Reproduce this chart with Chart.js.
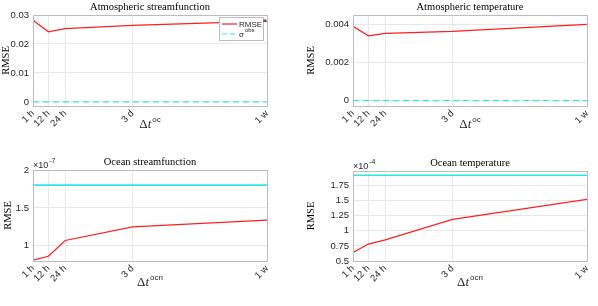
<!DOCTYPE html>
<html>
<head>
<meta charset="utf-8">
<script src="https://cdn.jsdelivr.net/npm/chart.js@4"></script>
<style>
  body { margin: 0; background: #fff; }
  #wrap { position: relative; width: 598px; height: 306px; }
  canvas { position: absolute; }
</style>
</head>
<body>
<div id="wrap">
  <canvas id="c1" width="299" height="153" style="left:0;top:0"></canvas>
  <canvas id="c2" width="299" height="153" style="left:299px;top:0"></canvas>
  <canvas id="c3" width="299" height="153" style="left:0;top:153px"></canvas>
  <canvas id="c4" width="299" height="153" style="left:299px;top:153px"></canvas>
</div>
<script>
// coupling step in hours
const steps = [1, 12, 24, 72, 168];
const xTickVals = [1, 12, 24, 72, 168];
const xTickLabels = ["1 h", "12 h", "24 h", "3 d", "1 w"];

const atmStreamRmse = [0.0282, 0.0242, 0.0253, 0.0264, 0.0279];
const atmStreamObs = 0.00005;
const atmStreamTicks = [0, 0.01, 0.02, 0.03];

const atmTempRmse = [0.0039, 0.0034, 0.00353, 0.00363, 0.0040];
const atmTempObs = 0.000005;
const atmTempTicks = [0, 0.002, 0.004];

// x 1e-7
const ocnStreamRmse = [0.81, 0.863, 1.07, 1.25, 1.34];
const ocnStreamObs = 1.80;
const ocnStreamTicks = [1, 1.5, 2];

// x 1e-4
const ocnTempRmse = [0.64, 0.78, 0.85, 1.19, 1.52];
const ocnTempObs = 1.92;
const ocnTempTicks = [0.5, 0.75, 1, 1.25, 1.5, 1.75];

const RED = "#ff1f1f";
const CYAN = "#2ee6e6";
const GRID = "#e8e8e8";
const BOX = "#bcbcbc";
const TICK = "#262626";
const SERIF = "'Liberation Serif', 'DejaVu Serif', serif";
const SANS = "'Liberation Sans', Arial, sans-serif";

// text with a superscript, x is the centre or left depending on align
function supText(ctx, base, baseFont, sup, supFont, x, y, align) {
  ctx.font = baseFont;
  const bw = ctx.measureText(base).width;
  ctx.font = supFont;
  const sw = ctx.measureText(sup).width;
  let x0 = align === "center" ? x - (bw + sw + 1) / 2 : x;
  ctx.textAlign = "left";
  ctx.textBaseline = "middle";
  ctx.font = baseFont;
  ctx.fillText(base, x0, y);
  ctx.font = supFont;
  ctx.fillText(sup, x0 + bw + 1, y - 5);
}

function decor(o) {
  return {
    id: "decor",
    afterDraw(chart) {
      const ctx = chart.ctx;
      const a = chart.chartArea;
      ctx.save();
      // box
      ctx.strokeStyle = BOX;
      ctx.lineWidth = 1;
      ctx.strokeRect(Math.round(a.left) + 0.5, Math.round(a.top) + 0.5,
        Math.round(a.right - a.left), Math.round(a.bottom - a.top));
      // title
      ctx.fillStyle = "#000";
      ctx.font = "10.5px " + SERIF;
      ctx.textAlign = "center";
      ctx.textBaseline = "middle";
      ctx.fillText(o.title, (a.left + a.right) / 2, a.top - 8);
      // y label
      ctx.save();
      ctx.translate(o.rmseX, (a.top + a.bottom) / 2);
      ctx.rotate(-Math.PI / 2);
      ctx.font = "10.5px " + SERIF;
      ctx.fillText("RMSE", 0, 0);
      ctx.restore();
      // x label
      const cx = (a.left + a.right) / 2;
      const cy = a.bottom + o.xDy;
      ctx.fillStyle = TICK;
      ctx.font = "13px " + SERIF;
      const dw = ctx.measureText("Δ").width;
      ctx.font = "italic 13px " + SERIF;
      const tw = ctx.measureText("t").width;
      ctx.font = "8px " + SANS;
      const sw = ctx.measureText(o.xSup).width;
      let x0 = cx - (dw + tw + sw + 1) / 2;
      ctx.textAlign = "left";
      ctx.font = "13px " + SERIF;
      ctx.fillText("Δ", x0, cy);
      ctx.font = "italic 13px " + SERIF;
      ctx.fillText("t", x0 + dw, cy);
      ctx.font = "8px " + SANS;
      ctx.fillText(o.xSup, x0 + dw + tw + 1, cy - 5);
      // exponent
      if (o.exp) {
        supText(ctx, "×10", "9px " + SANS, o.exp, "7px " + SANS, a.left, a.top - 4, "left");
      }
      // legend
      if (o.legend) {
        const lx = a.right - 48, ly = a.top + 2, lw = 44, lh = 23;
        ctx.fillStyle = "#fff";
        ctx.fillRect(lx, ly, lw, lh);
        ctx.strokeStyle = BOX;
        ctx.strokeRect(lx + 0.5, ly + 0.5, lw, lh);
        ctx.lineWidth = 1.2;
        ctx.strokeStyle = RED;
        ctx.beginPath();
        ctx.moveTo(lx + 3, ly + 7);
        ctx.lineTo(lx + 18, ly + 7);
        ctx.stroke();
        ctx.strokeStyle = CYAN;
        ctx.setLineDash([5, 3]);
        ctx.beginPath();
        ctx.moveTo(lx + 3, ly + 17);
        ctx.lineTo(lx + 18, ly + 17);
        ctx.stroke();
        ctx.setLineDash([]);
        ctx.fillStyle = TICK;
        supText(ctx, "RMSE", "8px " + SANS, "a", "6px " + SANS, lx + 20, ly + 8, "left");
        supText(ctx, "σ", "8px " + SANS, "obs", "6px " + SANS, lx + 20, ly + 18, "left");
      }
      ctx.restore();
    }
  };
}

function makeChart(id, rmse, obs, yMin, yMax, yTicks, dashed, pad, yWidth, xHeight, deco) {
  return new Chart(document.getElementById(id), {
    type: "line",
    data: {
      datasets: [
        {
          data: steps.map((s, i) => ({ x: s, y: rmse[i] })),
          borderColor: RED, borderWidth: 1.2, pointRadius: 0, tension: 0
        },
        {
          data: [{ x: steps[0], y: obs }, { x: steps[steps.length - 1], y: obs }],
          borderColor: CYAN, borderWidth: dashed ? 1.3 : 1.6,
          borderDash: dashed ? [6, 4] : [], pointRadius: 0
        }
      ]
    },
    options: {
      responsive: false,
      animation: false,
      devicePixelRatio: 1,
      layout: { padding: { top: pad.top, right: pad.right, left: 0, bottom: 0 } },
      plugins: { legend: { display: false }, tooltip: { enabled: false } },
      scales: {
        x: {
          type: "linear", min: 1, max: 168,
          afterBuildTicks: s => { s.ticks = xTickVals.map(v => ({ value: v })); },
          afterFit: s => { s.height = xHeight; },
          ticks: {
            autoSkip: false, minRotation: 45, maxRotation: 45, padding: 2,
            color: TICK, font: { family: SANS, size: 9.5 },
            callback: v => xTickLabels[xTickVals.indexOf(v)]
          },
          grid: { color: GRID, drawTicks: false },
          border: { color: BOX }
        },
        y: {
          min: yMin, max: yMax,
          afterBuildTicks: s => { s.ticks = yTicks.map(v => ({ value: v })); },
          afterFit: s => { s.width = yWidth; },
          ticks: {
            padding: 4, color: TICK, font: { family: SANS, size: 9.5 },
            callback: v => String(+v.toFixed(4))
          },
          grid: { color: GRID, drawTicks: false },
          border: { color: BOX }
        }
      }
    },
    plugins: [decor(deco)]
  });
}

makeChart("c1", atmStreamRmse, atmStreamObs, -0.0014, 0.03, atmStreamTicks, true,
  { top: 15, right: 32 }, 33, 47,
  { title: "Atmospheric streamfunction", xSup: "oc", rmseX: 6, xDy: 19, legend: true });

makeChart("c2", atmTempRmse, atmTempObs, -0.00028, 0.00449, atmTempTicks, true,
  { top: 15, right: 11 }, 54, 47,
  { title: "Atmospheric temperature", xSup: "oc", rmseX: 12, xDy: 19 });

makeChart("c3", ocnStreamRmse, ocnStreamObs, 0.8, 2, ocnStreamTicks, false,
  { top: 17, right: 32 }, 33, 45,
  { title: "Ocean streamfunction", xSup: "ocn", rmseX: 8, xDy: 22, exp: "-7" });

makeChart("c4", ocnTempRmse, ocnTempObs, 0.5, 1.99, ocnTempTicks, false,
  { top: 18, right: 11 }, 54, 45,
  { title: "Ocean temperature", xSup: "ocn", rmseX: 12, xDy: 22, exp: "-4" });
</script>
</body>
</html>
